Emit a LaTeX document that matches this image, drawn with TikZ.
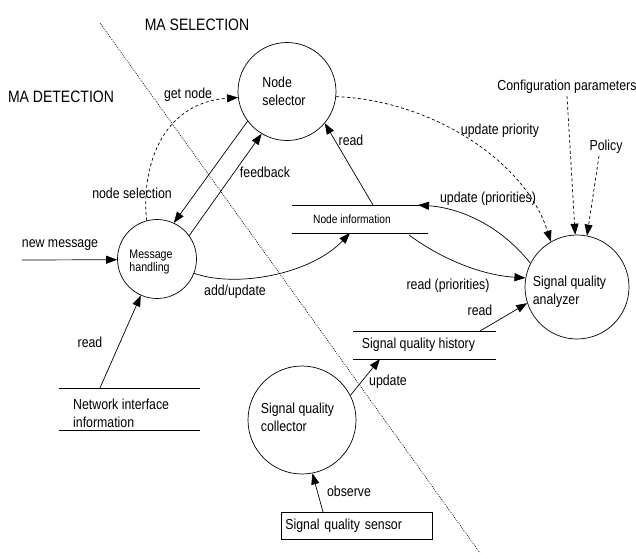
\documentclass[tikz,border=0pt]{standalone}
\usepackage{fontspec}
\setmainfont[FakeStretch=0.85]{Liberation Sans}
\usetikzlibrary{arrows.meta,calc}

\tikzset{
  proc/.style={circle, draw, line width=0.7pt, inner sep=0pt},
  txt/.style={inner sep=0pt, font=\fontsize{14.5}{18}\selectfont, align=left},
  area/.style={inner sep=0pt, font=\fontsize{16.5}{18}\selectfont},
  small/.style={inner sep=0pt, font=\fontsize{12.5}{13}\selectfont, align=left},
  storeline/.style={line width=0.7pt},
  flow/.style={line width=0.7pt, -{Triangle[length=11pt,width=8pt]}},
  ctrl/.style={flow, dash pattern=on 3pt off 2.5pt},
  border/.style={line width=0.7pt, dash pattern=on 0.8pt off 1.2pt},
}

\begin{document}
\begin{tikzpicture}[x=1pt, y=-1pt]
  \useasboundingbox (0,0) rectangle (636,558);

  % boundary between the two areas
  \coordinate (b1) at (100,23);
  \coordinate (b2) at (480,553);
  \draw[border] (b1) -- (b2);
  \node[area] (selarea) at (197,25) {MA SELECTION};
  \node[area] (detarea) at (61,97) {MA DETECTION};

  % processes
  \node[proc, minimum size=98pt] (sel) at (287,91.5) {};
  \node[txt] (selt) at (284,91) {Node\\selector};
  \node[proc, minimum size=79pt] (msg) at (157,259) {};
  \node[small] (msgt) at (151,261.5) {Message\\handling};
  \node[proc, minimum size=104pt] (ana) at (577,287) {};
  \node[txt] (anat) at (569.5,292) {Signal quality\\analyzer};
  \node[proc, minimum size=108pt] (col) at (302,420) {};
  \node[txt] (colt) at (297.5,417) {Signal quality\\collector};

  % data stores
  \draw[storeline] (292,205) -- (428,205) (292,233) -- (428,233);
  \node[font=\fontsize{12}{14}\selectfont, inner sep=0pt] (ni) at (352,219) {Node information};
  \draw[storeline] (59,388) -- (200,388) (59,430) -- (200,430);
  \node[txt, anchor=west] (nwi) at (73,413) {Network interface\\information};
  \draw[storeline] (353,331) -- (496,331) (353,359) -- (496,359);
  \node[txt] (sqh) at (418.5,345) {Signal quality history};
  \node[draw, line width=0.7pt, anchor=north west, minimum height=27pt,
        text width=143pt, inner xsep=4pt, inner ysep=0pt, align=left,
        font=\fontsize{14.5}{16}\selectfont] (sens) at (281,512) {Signal quality sensor};

  % external inputs
  \node[txt] (conf) at (567,87) {Configuration parameters};
  \node[txt] (pol) at (606,147) {Policy};
  \coordinate (newin) at (22,260);

  % connector end points on the stores
  \coordinate (niTopR) at (418,205);
  \coordinate (niTopRead) at (373,205);
  \coordinate (niBotAdd) at (350,233);
  \coordinate (niBotRead) at (409,235);
  \coordinate (nwiTop) at (100,388);
  \coordinate (sqhTop) at (480,331);
  \coordinate (sqhBot) at (380,359);
  \coordinate (sensTop) at (323,512);

  % flows
  \draw[ctrl] (msg.105) .. controls (141,170) and (160,103) .. (sel.187);
  \draw[flow] (sel.217) -- (msg.65);
  \draw[flow] (msg.36) -- (sel.239);
  \draw[flow] (newin) -- (msg.181);
  \draw[flow] (msg.339) .. controls (235,288) and (310,275) .. (niBotAdd);
  \draw[flow] (nwiTop) -- (msg.246);
  \draw[flow] (niTopRead) -- (sel.320);
  \draw[ctrl] (sel.354) .. controls (430,100) and (525,160) .. (ana.120);
  \draw[ctrl] ([yshift=-2pt]conf.south) -- (ana.92);
  \draw[ctrl] ([xshift=-7pt,yshift=-2pt]pol.south) -- (ana.79);
  \draw[flow] (ana.153) .. controls (500,225) and (460,208) .. (niTopR);
  \draw[flow] (niBotRead) .. controls (440,258) and (480,275) .. (ana.170);
  \draw[flow] (sqhTop) -- (ana.198);
  \draw[flow] (col.27) -- (sqhBot);
  \draw[flow] (sensTop) -- (col.281);

  % flow labels
  \node[txt] (lget) at (188,95) {get node};
  \node[txt] (lsel) at (132,193) {node selection};
  \node[txt] (lfb) at (265,172) {feedback};
  \node[txt] (lnew) at (60,245) {new message};
  \node[txt] (lread1) at (90,342) {read};
  \node[txt] (ladd) at (235,292) {add/update};
  \node[txt] (lread2) at (351,140) {read};
  \node[txt] (lprio) at (500,131) {update priority};
  \node[txt] (lupd) at (488,199) {update (priorities)};
  \node[txt] (lrdp) at (448,286) {read (priorities)};
  \node[txt] (lread3) at (480,310) {read};
  \node[txt] (lupdate) at (388,382) {update};
  \node[txt] (lobs) at (349,491) {observe};
\end{tikzpicture}
\end{document}
